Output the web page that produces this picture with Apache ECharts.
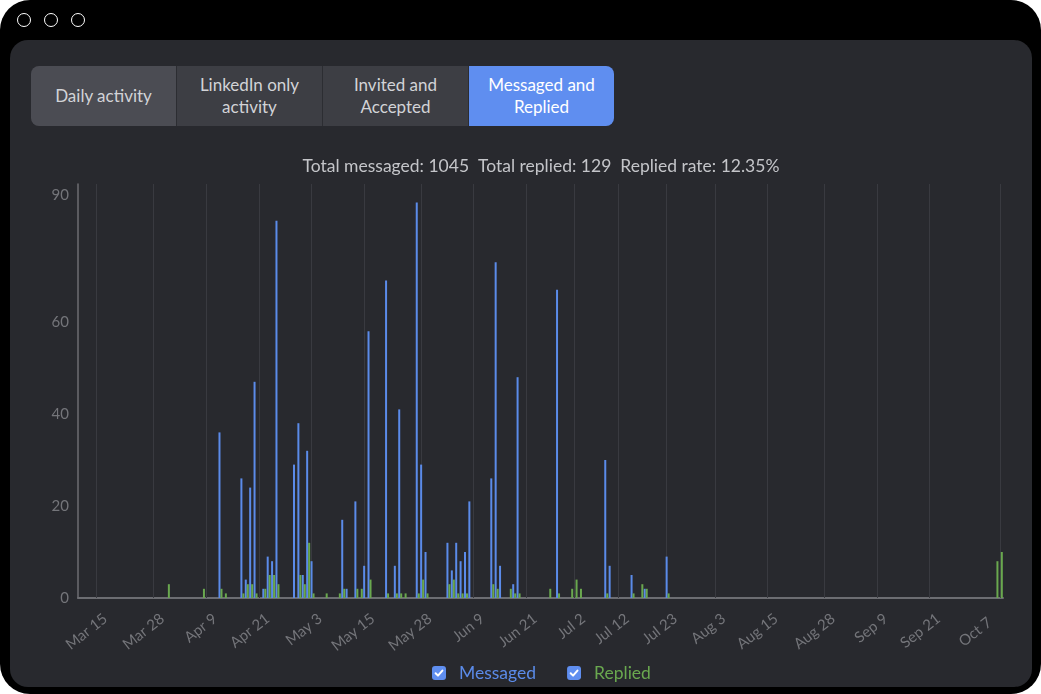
<!DOCTYPE html>
<html>
<head>
<meta charset="utf-8">
<script src="https://cdn.jsdelivr.net/npm/echarts@6/dist/echarts.min.js"></script>
<style>
  html, body { margin: 0; padding: 0; background: #ffffff; width: 1041px; height: 694px; overflow: hidden; }
  #frame { position: absolute; left: 0; top: 0; width: 1041px; height: 694px; background: #000; border-radius: 30px; overflow: hidden; }
  .dot { position: absolute; top: 13px; width: 12px; height: 12px; border: 1.5px solid #fff; border-radius: 50%; }
  #panel { position: absolute; left: 10px; top: 40px; width: 1022px; height: 647px; background: #28292e; border-radius: 18px; }
  #tabs { position: absolute; left: 31px; top: 66px; width: 583px; height: 60px; border-radius: 8px; overflow: hidden; display: flex; background: #2c2d32; }
  .tab { flex: 1; display: flex; align-items: center; justify-content: center; text-align: center; font-family: Lato, "Noto Sans", sans-serif; font-size: 17px; line-height: 22px; color: #d2d3d7; background: #3d3e44; border-left: 1px solid #2c2d32; }
  .tab:first-child { border-left: none; background: #4b4c53; }
  .tab.active { background: #5f8ef0; color: #ffffff; }
  #chart { position: absolute; left: 0; top: 0; width: 1041px; height: 694px; }
</style>
</head>
<body>
<div id="frame">
  <div class="dot" style="left:17px"></div>
  <div class="dot" style="left:44px"></div>
  <div class="dot" style="left:71px"></div>
  <div id="panel"></div>
  <div id="tabs">
    <div class="tab">Daily activity</div>
    <div class="tab">LinkedIn only<br>activity</div>
    <div class="tab">Invited and<br>Accepted</div>
    <div class="tab active">Messaged and<br>Replied</div>
  </div>
  <div id="chart"></div>
</div>
<script>
// ---- data ----
const firstDay = '2024-03-11';
const lastDay = '2024-10-07';
const tickLabels = ['Mar 15','Mar 28','Apr 9','Apr 21','May 3','May 15','May 28','Jun 9','Jun 21','Jul 2','Jul 12','Jul 23','Aug 3','Aug 15','Aug 28','Sep 9','Sep 21','Oct 7'];
const yTickLabels = [0, 20, 40, 60, 90];

const messagedDays = ['Apr 12','Apr 17','Apr 18','Apr 19','Apr 20','Apr 22','Apr 23','Apr 24','Apr 25','Apr 29','Apr 30','May 1','May 2','May 3','May 10','May 11','May 13','May 15','May 16','May 20','May 22','May 23','May 27','May 28','May 29','Jun 3','Jun 4','Jun 5','Jun 6','Jun 7','Jun 8','Jun 13','Jun 14','Jun 15','Jun 18','Jun 19','Jun 28','Jul 9','Jul 10','Jul 15','Jul 18','Jul 23'];
const messagedValues = [36,26,4,24,47,2,9,8,82,29,38,5,32,8,17,2,21,7,58,69,7,41,86,29,10,12,6,12,8,10,21,26,73,7,3,48,67,30,7,5,2,9];

const repliedDays = ['Mar 31','Apr 8','Apr 12','Apr 13','Apr 17','Apr 18','Apr 19','Apr 20','Apr 22','Apr 23','Apr 24','Apr 25','Apr 30','May 1','May 2','May 3','May 6','May 9','May 10','May 13','May 14','May 16','May 20','May 22','May 23','May 24','May 27','May 28','May 29','Jun 3','Jun 4','Jun 5','Jun 6','Jun 7','Jun 13','Jun 14','Jun 17','Jun 18','Jun 19','Jun 26','Jun 28','Jul 1','Jul 2','Jul 3','Jul 9','Jul 15','Jul 17','Jul 18','Jul 23','Oct 6','Oct 7'];
const repliedValues = [3,2,2,1,1,3,3,1,2,5,5,3,5,3,12,1,1,1,2,2,2,4,1,1,1,1,1,4,1,3,4,1,1,1,3,2,2,1,1,2,1,2,4,2,1,1,3,2,1,8,10];

const titleText = 'Total messaged: 1045  Total replied: 129  Replied rate: 12.35%';

// ---- build categories (one per day) ----
const monthNames = ['Jan','Feb','Mar','Apr','May','Jun','Jul','Aug','Sep','Oct','Nov','Dec'];
const categories = [];
for (let d = new Date(firstDay + 'T12:00:00'); d <= new Date(lastDay + 'T12:00:00'); d.setDate(d.getDate() + 1)) {
  categories.push(monthNames[d.getMonth()] + ' ' + d.getDate());
}
function toSeries(days, values) {
  const m = {};
  days.forEach((d, i) => { m[d] = values[i]; });
  return categories.map(c => (c in m ? m[c] : 0));
}
const messagedData = toSeries(messagedDays, messagedValues);
const repliedData = toSeries(repliedDays, repliedValues);

const BLUE = '#5b8be9';
const GREEN = '#6aa84f';
const FONT = 'Lato, "Noto Sans", sans-serif';
const LABEL = '#74757a';

const checkSvg = "<svg xmlns='http://www.w3.org/2000/svg' width='28' height='28' viewBox='0 0 14 14'><rect x='0' y='0' width='14' height='14' rx='3' fill='#5f8ef0'/><path d='M3.6 7.3 L6 9.6 L10.4 4.6' stroke='#ffffff' stroke-width='2' fill='none' stroke-linecap='round' stroke-linejoin='round'/></svg>";
const checkIcon = 'image://data:image/svg+xml;charset=utf-8,' + encodeURIComponent(checkSvg);

const chart = echarts.init(document.getElementById('chart'), null, { renderer: 'canvas' });
chart.setOption({
  animation: false,
  backgroundColor: 'transparent',
  title: {
    text: titleText,
    left: 541, top: 157, textAlign: 'center', padding: 0,
    textStyle: { fontFamily: FONT, fontSize: 17.5, fontWeight: 'normal', color: '#c4c5c9' }
  },
  legend: {
    left: 432, top: 664, padding: 0,
    itemWidth: 14, itemHeight: 14, itemGap: 31,
    icon: checkIcon,
    selectedMode: false,
    data: [
      { name: 'Messaged', textStyle: { color: BLUE } },
      { name: 'Replied', textStyle: { color: GREEN } }
    ],
    textStyle: { fontFamily: FONT, fontSize: 17.5, padding: [0, 0, 0, 8] }
  },
  grid: { left: 78, right: 38, top: 184, bottom: 96, containLabel: false },
  xAxis: {
    type: 'category',
    data: categories,
    boundaryGap: true,
    axisLine: { lineStyle: { color: '#6c6d72', width: 2 } },
    axisTick: { show: false },
    splitLine: { show: false },
    axisLabel: {
      interval: (idx, val) => tickLabels.indexOf(val) >= 0,
      rotate: 38,
      margin: 9,
      color: LABEL,
      fontFamily: FONT,
      fontSize: 15,
      formatter: (val) => (val === tickLabels[tickLabels.length - 1] ? '{e|' + val + '}' : '{n|' + val + '}'),
      rich: {
        n: { padding: [25, 0, 0, 0], color: LABEL, fontFamily: FONT, fontSize: 15 },
        e: { padding: [8, 17, 0, 0], color: LABEL, fontFamily: FONT, fontSize: 15 }
      }
    }
  },
  yAxis: {
    type: 'value',
    min: 0, max: 90, interval: 20,
    axisLine: { show: true, lineStyle: { color: '#6c6d72', width: 1.5 } },
    axisTick: { show: false },
    splitLine: { show: false },
    axisLabel: {
      margin: 9,
      showMaxLabel: true,
      color: LABEL,
      fontFamily: FONT,
      fontSize: 15,
      formatter: (v) => {
        if (yTickLabels.indexOf(v) < 0) return '';
        return v === yTickLabels[yTickLabels.length - 1] ? '{m|' + v + '}' : String(v);
      },
      rich: { m: { padding: [23, 0, 0, 0], color: LABEL, fontFamily: FONT, fontSize: 15 } }
    }
  },
  series: [
    {
      name: 'Messaged', type: 'bar', data: messagedData,
      barWidth: 2, barGap: '0%',
      itemStyle: { color: BLUE },
      emphasis: { disabled: true },
      markLine: {
        silent: true, symbol: 'none', z: 1,
        label: { show: false },
        lineStyle: { color: '#393a40', width: 1, type: 'solid' },
        data: tickLabels.map(t => ({ xAxis: t }))
      }
    },
    {
      name: 'Replied', type: 'bar', data: repliedData,
      barWidth: 2,
      itemStyle: { color: GREEN },
      emphasis: { disabled: true }
    }
  ]
});
</script>
</body>
</html>
